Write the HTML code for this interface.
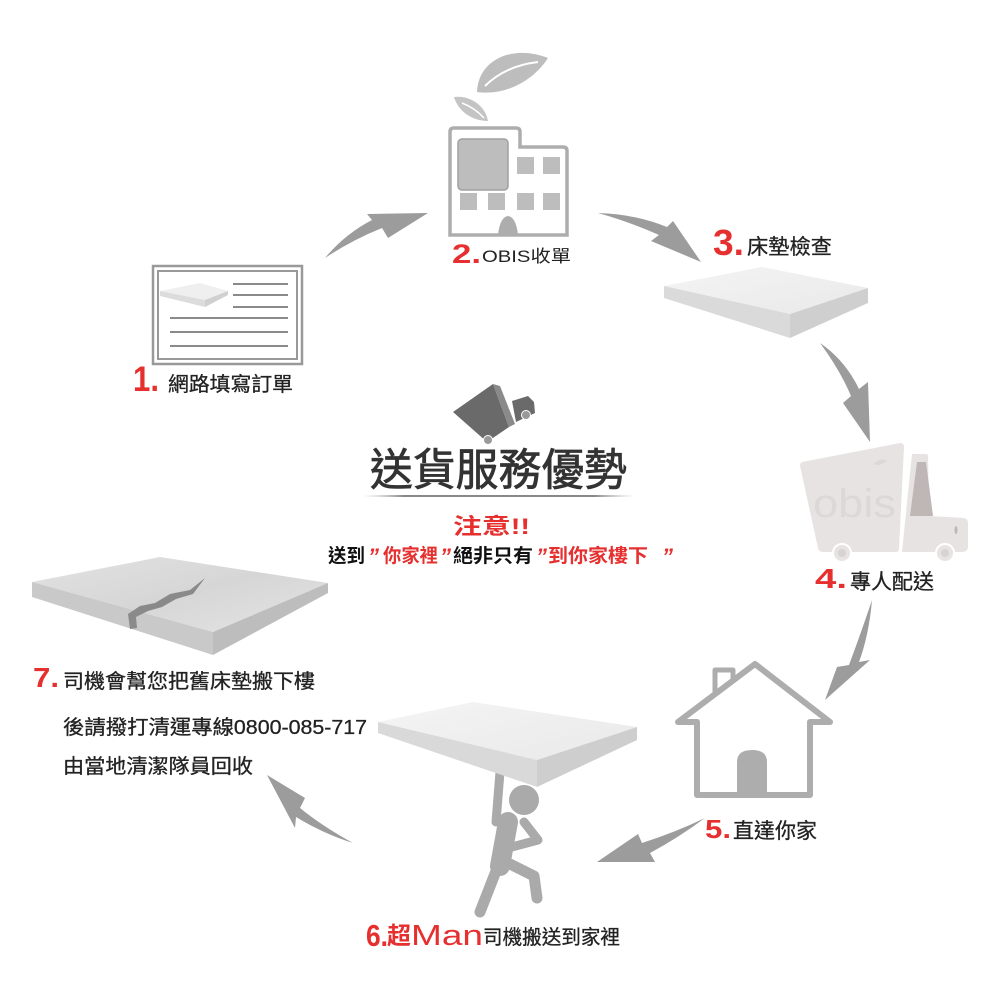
<!DOCTYPE html>
<html><head><meta charset="utf-8">
<style>
html,body{margin:0;padding:0;background:#fff;}
svg{display:block;}
.cjk{font-family:"Liberation Sans","Noto Sans CJK TC","Noto Sans CJK SC",sans-serif;}
.num{font-family:"Liberation Sans",sans-serif;font-weight:bold;fill:#e5302f;}
</style></head>
<body>
<svg width="1000" height="1000" viewBox="0 0 1000 1000" xmlns="http://www.w3.org/2000/svg">
<defs>
<linearGradient id="topg" x1="0" y1="0" x2="1" y2="1">
<stop offset="0" stop-color="#f4f4f4"/><stop offset="1" stop-color="#e9e9e9"/>
</linearGradient>
<linearGradient id="uline" x1="0" y1="0" x2="1" y2="0">
<stop offset="0" stop-color="#bbb" stop-opacity="0"/><stop offset="0.15" stop-color="#888"/><stop offset="0.85" stop-color="#888"/><stop offset="1" stop-color="#bbb" stop-opacity="0"/>
</linearGradient>
<linearGradient id="crk" x1="0" y1="0" x2="1" y2="1">
<stop offset="0" stop-color="#e2e2e2"/><stop offset="0.5" stop-color="#d6d6d6"/><stop offset="1" stop-color="#e4e4e4"/>
</linearGradient>
</defs>

<!-- Arrows -->
<g fill="#9c9c9c">
<path d="M325,258 Q345,234 372,220 L367,214 L428,213 L388,238 L382,228 Q352,240 325,258 Z"/>
<path d="M598,213 Q635,214 667,227 L673,221 L701,262 L651,241 L659,235 Q630,222 598,213 Z"/>
<path d="M820,343 Q845,360 859,389 L868,382 L870,442 L843,403 L851,396 Q840,370 820,343 Z"/>
<path d="M872,600 Q869,635 859,662 L870,660 L825,700 L837,667 L849,665 Q862,630 872,600 Z"/>
<path d="M705,818 Q678,838 650,853 L655,862 L597,862 L638,834 L642,843 Q676,832 705,818 Z"/>
<path d="M353,843 Q322,826 300,808 L305,798 L267,775 L295,828 L296,817 Q324,834 353,843 Z"/>
</g>

<!-- Item 2: building + leaves -->
<path d="M477,92 C478,60 512,44 548,58 C534,80 506,96 477,92 Z" fill="#bdbdbd"/>
<path d="M485,86 Q505,66 538,62" stroke="#fff" stroke-width="2" fill="none"/>
<path d="M454,97 C468,95 485,104 488,121 C472,121 458,111 454,97 Z" fill="#c4c4c4"/>
<path d="M462,103 Q475,108 484,118" stroke="#fff" stroke-width="1.5" fill="none"/>
<path d="M450,235 L450,132 Q450,128 454,128 L516,128 Q520,128 520,132 L520,147 L563,147 Q567,147 567,151 L567,235 Z" fill="#fff" stroke="#adadad" stroke-width="3.5"/>
<rect x="458" y="139" width="50" height="51" rx="4" fill="#bdbdbd" stroke="#a0a0a0" stroke-width="1.5"/>
<g fill="#bdbdbd">
<rect x="517" y="157" width="17" height="17"/>
<rect x="543" y="157" width="17" height="17"/>
<rect x="460" y="193" width="17" height="17"/>
<rect x="488" y="193" width="17" height="17"/>
<rect x="517" y="193" width="17" height="17"/>
<rect x="543" y="193" width="17" height="17"/>
</g>
<path d="M498,235 Q500,217 508,216 Q516,217 518,235 Z" fill="#adadad"/>
<text x="452" y="263" class="num" font-size="27" textLength="29" lengthAdjust="spacingAndGlyphs">2.</text>
<text x="482" y="262" class="cjk" font-size="17" fill="#222" textLength="89" lengthAdjust="spacingAndGlyphs">OBIS收單</text>

<!-- Item 1: card -->
<rect x="153" y="266" width="149" height="98" fill="#fff" stroke="#999" stroke-width="2.5"/>
<rect x="158" y="271" width="139" height="88" fill="none" stroke="#999" stroke-width="2"/>
<polygon points="160,291 200,283 228,291 205,300" fill="#efefef"/>
<polygon points="160,291 205,300 205,307 160,296" fill="#dcdcdc"/>
<polygon points="205,300 228,291 228,295 205,307" fill="#d0d0d0"/>
<g stroke="#8a8a8a" stroke-width="2">
<line x1="233" y1="284" x2="288" y2="284"/>
<line x1="233" y1="295" x2="288" y2="295"/>
<line x1="233" y1="307" x2="288" y2="307"/>
<line x1="170" y1="318" x2="288" y2="318"/>
<line x1="170" y1="332" x2="288" y2="332"/>
<line x1="170" y1="346" x2="288" y2="346"/>
</g>
<text x="133" y="391" class="num" font-size="35" textLength="26" lengthAdjust="spacingAndGlyphs">1.</text>
<text x="168" y="391" class="cjk" font-size="20" fill="#222" stroke="#222" stroke-width="0.3" textLength="125" lengthAdjust="spacingAndGlyphs">網路填寫訂單</text>

<!-- Item 3: mattress -->
<polygon points="664,286 762,267 868,288 790,314" fill="url(#topg)"/>
<polygon points="664,286 790,314 790,338 664,298" fill="#dadada"/>
<polygon points="790,314 868,288 868,303 790,338" fill="#cfcfcf"/>
<text x="713" y="255" class="num" font-size="36" textLength="31" lengthAdjust="spacingAndGlyphs">3.</text>
<text x="747" y="254" class="cjk" font-size="21" fill="#222" stroke="#222" stroke-width="0.3" textLength="85" lengthAdjust="spacingAndGlyphs">床墊檢查</text>

<!-- Item 4: truck -->
<path d="M802,462 L900,443 Q904,443 904,447 L899,549 Q899,552 895,552 L823,552 Q819,552 818,548 L800,466 Q800,463 802,462 Z" fill="#e7e3e3"/>
<text x="813" y="517" font-family="Liberation Sans,sans-serif" font-size="40" fill="#dcd8d8" textLength="83" lengthAdjust="spacingAndGlyphs">obis</text>
<path d="M873,464 Q880,458 887,460 Q882,467 873,464 Z" fill="#dcd8d8"/>
<path d="M912,454 L926,454 Q928,454 928,456 L929,516 L964,518 Q968,519 968,523 L968,546 Q968,552 962,552 L902,552 Z" fill="#e7e3e3"/>
<polygon points="917,462 926,462 933,516 910,516" fill="#bfb6b6"/>
<ellipse cx="956" cy="530" rx="1.5" ry="4" fill="#bfb6b6"/>
<circle cx="842" cy="553" r="9" fill="#e7e3e3" stroke="#fff" stroke-width="2"/>
<circle cx="842" cy="553" r="4" fill="#d8d3d3"/>
<circle cx="945" cy="553" r="9" fill="#e7e3e3" stroke="#fff" stroke-width="2"/>
<circle cx="945" cy="553" r="4" fill="#d8d3d3"/>
<text x="815" y="588" class="num" font-size="28" textLength="32" lengthAdjust="spacingAndGlyphs">4.</text>
<text x="850" y="589" class="cjk" font-size="21" fill="#222" stroke="#222" stroke-width="0.3" textLength="84" lengthAdjust="spacingAndGlyphs">專人配送</text>

<!-- Item 5: house -->
<path d="M697,795 L697,722 L678,722 L755,664 L830,722 L810,722 L810,795 Z" fill="none" stroke="#adadad" stroke-width="6" stroke-linejoin="round"/>
<path d="M715,692 L715,670 L733,670 L733,681" fill="none" stroke="#adadad" stroke-width="5" stroke-linejoin="round"/>
<path d="M737,795 L737,762 Q737,750 752,750 Q767,750 767,762 L767,795 Z" fill="#adadad"/>
<text x="705" y="838" class="num" font-size="26" textLength="26" lengthAdjust="spacingAndGlyphs">5.</text>
<text x="733" y="838" class="cjk" font-size="21" fill="#222" stroke="#222" stroke-width="0.3" textLength="84" lengthAdjust="spacingAndGlyphs">直達你家</text>

<!-- Item 6: mattress + person -->
<g stroke="#aaaaaa" stroke-linecap="round" stroke-linejoin="round" fill="none">
<line x1="500" y1="772" x2="496" y2="822" stroke-width="9"/>
<path d="M508,822 L500,866" stroke-width="20"/>
<path d="M498,866 L480,912" stroke-width="11"/>
<path d="M510,864 L534,876 L537,898" stroke-width="11"/>
<path d="M524,822 L538,840 L508,848" stroke-width="9"/>
</g>
<circle cx="524" cy="800" r="15" fill="#aaaaaa"/>
<polygon points="378,722 473,702 637,727 537,760" fill="url(#topg)"/>
<polygon points="378,722 537,760 537,787 378,733" fill="#d9d9d9"/>
<polygon points="537,760 637,727 637,740 537,787" fill="#cecece"/>
<text x="366" y="946" class="num" font-size="31" textLength="22" lengthAdjust="spacingAndGlyphs">6.</text>
<text x="387" y="944" class="cjk" font-size="24" font-weight="bold" fill="#e5302f">超</text>
<text x="411" y="945" font-family="Liberation Sans,sans-serif" font-size="29" fill="#e5302f" textLength="72" lengthAdjust="spacingAndGlyphs">Man</text>
<text x="483" y="944" class="cjk" font-size="20" fill="#222" stroke="#222" stroke-width="0.3" textLength="137" lengthAdjust="spacingAndGlyphs">司機搬送到家裡</text>

<!-- Item 7: cracked mattress -->
<polygon points="32,582 160,557 328,583 213,632" fill="url(#crk)"/>
<polygon points="32,582 213,632 213,655 32,597" fill="#c9c9c9"/>
<polygon points="213,632 328,583 328,593 213,655" fill="#bdbdbd"/>
<path d="M205,578 L190,590 L170,594 L155,603 L140,606 L128,614 L130,629 L137,628 L136,617 L148,611 L162,607 L176,599 L193,594 Z" fill="#8a8a8a"/>
<text x="33" y="687" class="num" font-size="28" textLength="26" lengthAdjust="spacingAndGlyphs">7.</text>
<g class="cjk" font-size="20" fill="#222" stroke="#222" stroke-width="0.3">
<text x="63" y="688" textLength="252" lengthAdjust="spacingAndGlyphs">司機會幫您把舊床墊搬下樓</text>
<text x="63" y="734" textLength="304" lengthAdjust="spacingAndGlyphs">後請撥打清運專線0800-085-717</text>
<text x="63" y="773" textLength="190" lengthAdjust="spacingAndGlyphs">由當地清潔隊員回收</text>
</g>

<!-- Center truck (tilted) -->
<polygon points="453,412 493,384 509,427 487,442" fill="#6a6a6a"/>
<polygon points="493,384 500,386 515,424 509,427" fill="#8a8a8a"/>
<polygon points="512,401 528,396 534,402 535,413 516,422" fill="#6a6a6a"/>
<circle cx="488" cy="440" r="4.5" fill="#999" stroke="#fff" stroke-width="1"/>
<circle cx="526" cy="415" r="4.5" fill="#999" stroke="#fff" stroke-width="1"/>

<text x="370" y="485" class="cjk" font-size="44" fill="#333" stroke="#333" stroke-width="0.8" textLength="257" lengthAdjust="spacingAndGlyphs">送貨服務優勢</text>
<rect x="363" y="495" width="272" height="2" fill="url(#uline)"/>
<text x="453" y="534" class="cjk" font-size="22" font-weight="bold" fill="#e5302f" textLength="77" lengthAdjust="spacingAndGlyphs">注意!!</text>
<g class="cjk" font-size="19" font-weight="bold">
<text x="328" y="562" fill="#111" textLength="37" lengthAdjust="spacingAndGlyphs">送到</text>
<text x="368" y="564" fill="#e5302f" font-size="22" font-style="italic">”</text>
<text x="383" y="562" fill="#e5302f" textLength="55" lengthAdjust="spacingAndGlyphs">你家裡</text>
<text x="440" y="564" fill="#e5302f" font-size="22" font-style="italic">”</text>
<text x="453" y="562" fill="#111" textLength="80" lengthAdjust="spacingAndGlyphs">絕非只有</text>
<text x="536" y="564" fill="#e5302f" font-size="22" font-style="italic">”</text>
<text x="548" y="562" fill="#e5302f" textLength="100" lengthAdjust="spacingAndGlyphs">到你家樓下</text>
<text x="662" y="564" fill="#e5302f" font-size="22" font-style="italic">”</text>
</g>
</svg>
</body></html>
